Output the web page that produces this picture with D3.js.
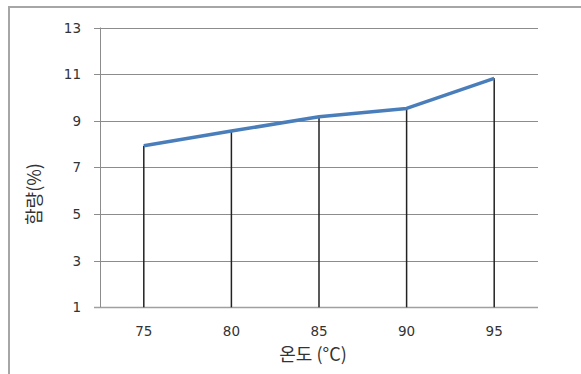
<!DOCTYPE html>
<html><head><meta charset="utf-8">
<script src="https://cdn.jsdelivr.net/npm/d3@7"></script>
<style>body{margin:0;background:#fff;}svg{display:block;}</style>
</head><body>
<script>
const categories = ["75","80","85","90","95"];
const values = [7.93, 8.56, 9.17, 9.53, 10.82];
const yTicks = [1,3,5,7,9,11,13];
const xTitle = "온도 (°C)";
const yTitle = "함량(%)";

const W = 581, H = 374;
const m = {left:100, right:43, top:27.5, bottom:66.7};
const svg = d3.select("body").append("svg").attr("width",W).attr("height",H);

// outer frame
svg.append("rect").attr("x",9).attr("y",7).attr("width",W).attr("height",H)
  .attr("fill","none").attr("stroke","#a6a6a6").attr("stroke-width",2);

const x = d3.scaleBand().domain(categories).range([m.left, W-m.right]);
const y = d3.scaleLinear().domain([1,13]).range([H-m.bottom, m.top]);

// gridlines
svg.append("g").selectAll("line").data(yTicks).join("line")
  .attr("x1",m.left-6).attr("x2",W-m.right)
  .attr("y1",d=>Math.round(y(d))+0.5).attr("y2",d=>Math.round(y(d))+0.5)
  .attr("stroke",d=>d===1?"#a0a0a0":"#8c8c8c").attr("stroke-width",d=>d===1?1.5:1);

// y axis line
svg.append("line").attr("x1",m.left+0.5).attr("x2",m.left+0.5)
  .attr("y1",y(13)).attr("y2",y(1)).attr("stroke","#8c8c8c");

// y tick labels
svg.append("g").selectAll("text").data(yTicks).join("text")
  .attr("x",81).attr("y",d=>y(d)+5)
  .attr("text-anchor","end").attr("font-family","DejaVu Sans").attr("font-size",13.5)
  .attr("fill","#333").text(d=>d);

// x tick labels
svg.append("g").selectAll("text").data(categories).join("text")
  .attr("x",d=>x(d)+x.bandwidth()/2).attr("y",336)
  .attr("text-anchor","middle").attr("font-family","DejaVu Sans").attr("font-size",13.5)
  .attr("fill","#333").text(d=>d);

// drop lines
const pts = categories.map((c,i)=>({c, v:values[i]}));
svg.append("g").selectAll("line").data(pts).join("line")
  .attr("x1",d=>x(d.c)+x.bandwidth()/2).attr("x2",d=>x(d.c)+x.bandwidth()/2)
  .attr("y1",d=>y(d.v)).attr("y2",y(1))
  .attr("stroke","#222").attr("stroke-width",1.5);

// line
svg.append("path").datum(pts)
  .attr("d", d3.line().x(d=>x(d.c)+x.bandwidth()/2).y(d=>y(d.v)))
  .attr("fill","none").attr("stroke","#4a7ebb").attr("stroke-width",3.5).attr("stroke-linejoin","round");

// titles
svg.append("text").attr("x",313).attr("y",360.5).attr("text-anchor","middle")
  .attr("font-family","Noto Sans CJK KR").attr("font-size",18).attr("fill","#333").text(xTitle);
svg.append("text").attr("transform","translate(41,194) rotate(-90)").attr("text-anchor","middle")
  .attr("font-family","Noto Sans CJK KR").attr("font-size",18).attr("fill","#333").text(yTitle);
</script>
</body></html>
